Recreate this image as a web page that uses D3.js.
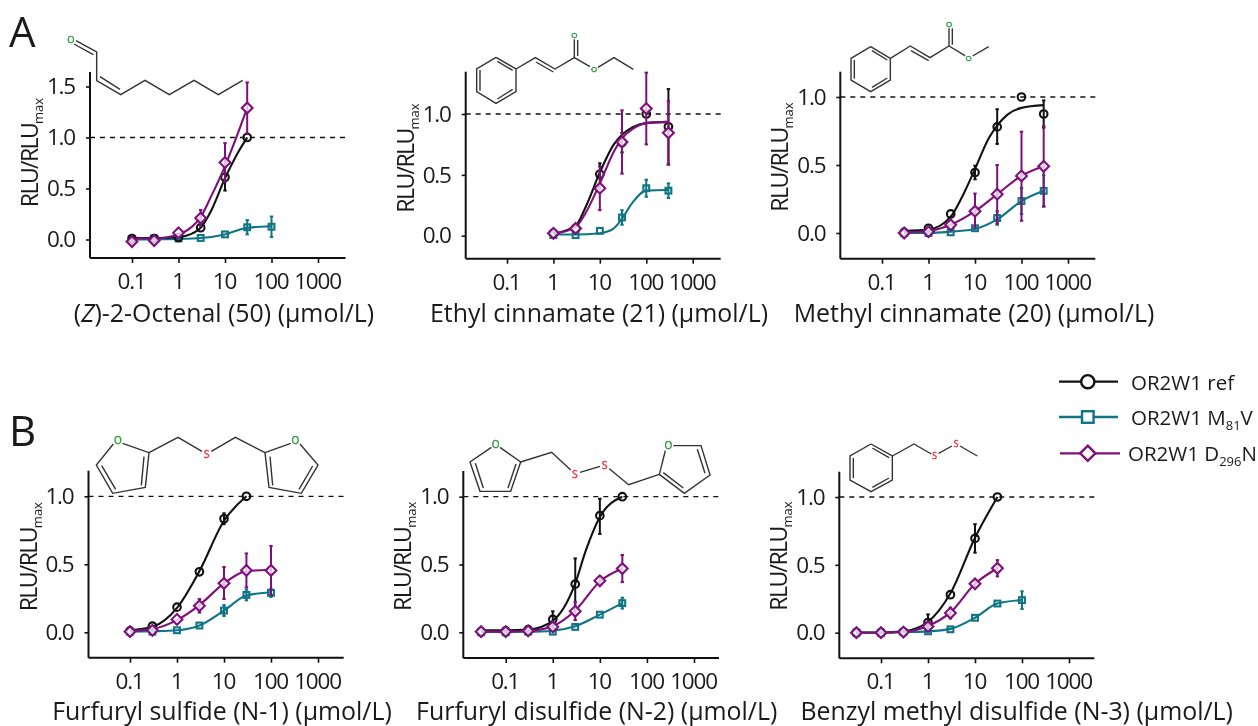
<!DOCTYPE html>
<html><head><meta charset="utf-8">
<style>html,body{margin:0;padding:0;background:#fff;overflow:hidden}svg{display:block;filter:blur(0.45px)}text{font-family:"Open Sans",Lato,sans-serif;fill:#1a1a1a}</style>
<script src="https://cdn.jsdelivr.net/npm/d3@7"></script></head><body>
<svg id="c" width="1258" height="726"></svg>
<script>
// Rows: [concentration, mean, error-down, error-up]
const a1Ref=[[0.1,0.01,0.02,0.02],[0.3,0.01,0.02,0.02],[1,0.02,0.01,0.01],[3,0.115,0.02,0.02],[10,0.61,0.13,0.1],[30,1,0,0]];
const a1Mut=[[0.1,0,0.02,0.02],[0.3,0.01,0.01,0.01],[1,0.01,0.01,0.01],[3,0.015,0.01,0.01],[10,0.05,0.02,0.02],[30,0.12,0.07,0.07],[100,0.125,0.1,0.1]];
const a1Dn=[[0.1,-0.02,0.03,0.03],[0.3,-0.01,0.03,0.03],[1,0.065,0.02,0.02],[3,0.21,0.08,0.08],[10,0.755,0.19,0.19],[30,1.29,0.25,0.25]];
const a2Ref=[[1,0.02,0.01,0.01],[3,0.06,0.01,0.01],[10,0.505,0.09,0.09],[30,0.765,0.08,0.08],[100,1,0,0],[300,0.895,0.31,0.31]];
const a2Mut=[[1,0.005,0.01,0.01],[3,0.005,0.01,0.01],[10,0.04,0.01,0.01],[30,0.15,0.06,0.06],[100,0.39,0.07,0.07],[300,0.37,0.06,0.06]];
const a2Dn=[[1,0.02,0.01,0.01],[3,0.06,0.02,0.02],[10,0.39,0.18,0.18],[30,0.77,0.26,0.26],[100,1.045,0.295,0.295],[300,0.845,0.26,0.26]];
const a3Ref=[[0.3,0.005,0.01,0.01],[1,0.035,0.01,0.01],[3,0.14,0.02,0.02],[10,0.445,0.05,0.05],[30,0.78,0.125,0.13],[100,1,0,0],[300,0.875,0.1,0.1]];
const a3Mut=[[0.3,0,0.01,0.01],[1,0,0.01,0.01],[3,0.005,0.01,0.01],[10,0.035,0.02,0.02],[30,0.11,0.05,0.05],[100,0.235,0.095,0.095],[300,0.31,0.115,0.115]];
const a3Dn=[[0.3,0,0.01,0.01],[1,0.01,0.01,0.01],[3,0.06,0.02,0.02],[10,0.16,0.12,0.13],[30,0.285,0.215,0.215],[100,0.42,0.33,0.325],[300,0.49,0.295,0.295]];
const b1Ref=[[0.1,0.01,0.01,0.01],[0.3,0.045,0.01,0.01],[1,0.185,0.02,0.02],[3,0.445,0.02,0.02],[10,0.835,0.04,0.04],[30,1,0,0]];
const b1Mut=[[0.1,0.005,0.01,0.01],[0.3,0.005,0.01,0.01],[1,0.015,0.01,0.01],[3,0.05,0.01,0.01],[10,0.16,0.04,0.04],[30,0.275,0.04,0.04],[100,0.29,0.03,0.03]];
const b1Dn=[[0.1,0.005,0.01,0.01],[0.3,0.015,0.01,0.01],[1,0.095,0.02,0.02],[3,0.195,0.05,0.05],[10,0.36,0.115,0.12],[30,0.455,0.125,0.125],[100,0.455,0.18,0.18]];
const b2Ref=[[0.03,0.005,0.01,0.01],[0.1,0.01,0.01,0.01],[0.3,0.02,0.01,0.01],[1,0.095,0.06,0.06],[3,0.355,0.19,0.19],[10,0.86,0.135,0.125],[30,1,0,0]];
const b2Mut=[[0.03,0,0.01,0.01],[0.1,0,0.01,0.01],[0.3,0.005,0.01,0.01],[1,0.005,0.01,0.01],[3,0.04,0.01,0.01],[10,0.13,0.02,0.02],[30,0.215,0.04,0.04]];
const b2Dn=[[0.03,0.005,0.01,0.01],[0.1,0.005,0.01,0.01],[0.3,0.01,0.01,0.01],[1,0.04,0.01,0.01],[3,0.155,0.065,0.07],[10,0.38,0.03,0.03],[30,0.47,0.1,0.1]];
const b3Ref=[[0.03,0,0.01,0.01],[0.1,0,0.01,0.01],[0.3,0.005,0.01,0.01],[1,0.075,0.06,0.06],[3,0.28,0.02,0.02],[10,0.695,0.105,0.105],[30,1,0,0]];
const b3Mut=[[0.03,0,0.01,0.01],[0.1,0,0.01,0.01],[0.3,0.005,0.01,0.01],[1,0.01,0.01,0.01],[3,0.025,0.01,0.01],[10,0.11,0.01,0.01],[30,0.215,0.015,0.015],[100,0.24,0.065,0.065]];
const b3Dn=[[0.03,0,0.01,0.01],[0.1,0,0.01,0.01],[0.3,0.005,0.01,0.01],[1,0.045,0.01,0.01],[3,0.145,0.04,0.04],[10,0.36,0.03,0.03],[30,0.475,0.06,0.06]];
// Fitted curves: [concentration, value]
const a1RefFit=[[0.1,0.015],[0.3,0.015],[1,0.025],[2,0.06],[3,0.115],[5,0.28],[10,0.6],[20,0.87],[30,1]];
const a1MutFit=[[0.1,0],[0.3,0.003],[1,0.006],[3,0.015],[10,0.05],[30,0.115],[100,0.13]];
const a1DnFit=[[0.1,0.01],[0.3,0.01],[1,0.05],[2,0.13],[3,0.22],[5,0.42],[10,0.72],[20,1.07],[30,1.29]];
const a2RefFit=[[1,0.015],[3,0.08],[5,0.24],[10,0.52],[20,0.75],[30,0.83],[50,0.89],[100,0.925],[300,0.935]];
const a2MutFit=[[1,0.01],[3,0.01],[10,0.02],[20,0.06],[30,0.14],[50,0.27],[100,0.37],[300,0.375]];
const a2DnFit=[[1,0.015],[3,0.07],[5,0.19],[10,0.43],[20,0.69],[30,0.8],[50,0.875],[100,0.925],[300,0.935]];
const a3RefFit=[[0.3,0.015],[1,0.025],[3,0.12],[5,0.25],[10,0.47],[20,0.7],[30,0.79],[50,0.87],[100,0.92],[300,0.94]];
const a3MutFit=[[0.3,0],[1,0],[3,0.01],[10,0.03],[30,0.1],[100,0.235],[300,0.31]];
const a3DnFit=[[0.3,0.005],[1,0.015],[3,0.06],[10,0.16],[30,0.285],[100,0.42],[300,0.49]];
const b1RefFit=[[0.1,0.015],[0.3,0.04],[1,0.18],[3,0.45],[10,0.82],[30,1]];
const b1MutFit=[[0.1,0.005],[0.3,0.008],[1,0.015],[3,0.05],[10,0.16],[30,0.27],[100,0.295]];
const b1DnFit=[[0.1,0.01],[0.3,0.025],[1,0.09],[3,0.2],[10,0.36],[30,0.45],[100,0.46]];
const b2RefFit=[[0.03,0.015],[0.1,0.015],[0.3,0.02],[1,0.085],[3,0.36],[5,0.6],[10,0.85],[30,1]];
const b2MutFit=[[0.03,0.003],[0.1,0.003],[0.3,0.004],[1,0.012],[3,0.045],[10,0.13],[30,0.215]];
const b2DnFit=[[0.03,0.005],[0.1,0.005],[0.3,0.01],[1,0.045],[3,0.16],[10,0.375],[30,0.47]];
const b3RefFit=[[0.03,0.002],[0.1,0.002],[0.3,0.01],[1,0.08],[3,0.29],[10,0.7],[30,1]];
const b3MutFit=[[0.03,0.001],[0.1,0.001],[0.3,0.005],[1,0.01],[3,0.028],[10,0.11],[30,0.215],[100,0.24]];
const b3DnFit=[[0.03,0],[0.1,0],[0.3,0.006],[1,0.05],[3,0.15],[10,0.36],[30,0.475]];
const xTickValues=[0.1,1,10,100,1000];
const xTickLabels=["0.1","1","10","100","1000"];
const yTicksA1=[0,0.5,1,1.5];
const yTicksRest=[0,0.5,1];
const seriesNames=["OR2W1 ref","OR2W1 M","OR2W1 D"];
const panelTitles=["(Z)-2-Octenal (50) (µmol/L)","Ethyl cinnamate (21) (µmol/L)","Methyl cinnamate (20) (µmol/L)","Furfuryl sulfide (N-1) (µmol/L)","Furfuryl disulfide (N-2) (µmol/L)","Benzyl methyl disulfide (N-3) (µmol/L)"];

const COL={ref:"#111",mut:"#0f7484",dn:"#7f0f7a"};
const FS=23, TS=22.5, TITLE=24.9;
const svg=d3.select("#c");

function marker(g,kind,cx,cy,s,fill,sw){
  const c=COL[kind];
  if(kind==="ref") g.append("circle").attr("cx",cx).attr("cy",cy).attr("r",s).attr("fill",fill).attr("stroke",c).attr("stroke-width",sw);
  if(kind==="mut") g.append("rect").attr("x",cx-s).attr("y",cy-s).attr("width",2*s).attr("height",2*s).attr("fill",fill).attr("stroke",c).attr("stroke-width",sw);
  if(kind==="dn") g.append("path").attr("d",`M${cx-s},${cy}L${cx},${cy-s}L${cx+s},${cy}L${cx},${cy+s}Z`).attr("fill",fill).attr("stroke",c).attr("stroke-width",sw);
}

function panel(o){
  const g=svg.append("g");
  const x=d3.scaleLog().domain([0.1,1000]).range([o.x01,o.x1000]);
  const y=d3.scaleLinear().domain([0,1]).range([o.y0,o.y1]);
  g.append("line").attr("x1",o.axX).attr("x2",o.axEnd).attr("y1",y(1)).attr("y2",y(1)).attr("stroke","#111").attr("stroke-width",1.3).attr("stroke-dasharray","5,5");
  const ax=g.append("g").attr("transform",`translate(0,${o.axB})`).call(d3.axisBottom(x).tickValues(xTickValues).tickFormat((d,i)=>xTickLabels[i]).tickSize(5).tickPadding(10));
  ax.select(".domain").remove();
  ax.append("line").attr("x1",o.axX).attr("x2",o.axEnd).attr("stroke","#111").attr("stroke-width",2);
  ax.selectAll(".tick line").attr("stroke","#111").attr("stroke-width",1.6);
  ax.selectAll("text").attr("font-size",TS).attr("font-family","Open Sans").attr("fill","#1a1a1a").attr("letter-spacing",-1.2).attr("dx",-1);
  const ay=g.append("g").attr("transform",`translate(${o.axX},0)`).call(d3.axisLeft(y).tickValues(o.yt).tickFormat(d3.format(".1f")).tickSize(4).tickPadding(11));
  ay.select(".domain").remove();
  ay.append("line").attr("y1",o.axT).attr("y2",o.axB).attr("stroke","#111").attr("stroke-width",2);
  ay.selectAll(".tick line").attr("stroke","#111").attr("stroke-width",1.6);
  ay.selectAll("text").attr("font-size",TS).attr("font-family","Open Sans").attr("fill","#1a1a1a").attr("letter-spacing",-1.2);
  const yl=g.append("text").attr("transform",`translate(${o.axX-52},${o.yl}) rotate(-90)`).attr("font-size",FS).attr("text-anchor","middle");
  yl.append("tspan").text("RLU/RLU").attr("letter-spacing",-1.6);
  yl.append("tspan").text("max").attr("font-size",13).attr("dy",5);
  const t=g.append("text").attr("x",o.tx).attr("y",o.ty).attr("text-anchor","middle").attr("font-size",TITLE);
  if(o.title.startsWith("(Z)")){t.append("tspan").text("(");t.append("tspan").text("Z").attr("font-style","italic");t.append("tspan").text(o.title.slice(2));}
  else t.text(o.title);
  const line=d3.line().x(d=>x(d[0])).y(d=>y(d[1])).curve(d3.curveMonotoneX);
  [["mut",o.mut,o.mutFit],["dn",o.dn,o.dnFit],["ref",o.ref,o.refFit]].sort((a,b)=>o.order.indexOf(a[0])-o.order.indexOf(b[0])).forEach(([k,rows,fit])=>{
    const s=g.append("g");
    s.append("path").attr("d",line(fit)).attr("fill","none").attr("stroke",COL[k]).attr("stroke-width",2.1);
    rows.filter(r=>r[2]+r[3]>0.04).forEach(r=>{
      const cx=x(r[0]);
      s.append("line").attr("x1",cx).attr("x2",cx).attr("y1",y(r[1]-r[2])).attr("y2",y(r[1]+r[3])).attr("stroke",COL[k]).attr("stroke-width",2);
      [r[1]-r[2],r[1]+r[3]].forEach(v=>s.append("line").attr("x1",cx-1.7).attr("x2",cx+1.7).attr("y1",y(v)).attr("y2",y(v)).attr("stroke",COL[k]).attr("stroke-width",2));
    });
    rows.forEach(r=>marker(s,k,x(r[0]),y(r[1]),k==="ref"?3.8:k==="mut"?2.9:5.4,k==="dn"?"rgba(255,255,255,.75)":"none",2.1));
  });
  return g;
}

panel({x01:132,x1000:318,y0:239.5,y1:137.5,axX:90,axEnd:345.5,axT:72,axB:258,yl:152.5,yt:yTicksA1,tx:224,ty:321.5,title:panelTitles[0],ref:a1Ref,mut:a1Mut,dn:a1Dn,refFit:a1RefFit,mutFit:a1MutFit,dnFit:a1DnFit,order:["mut","ref","dn"]});
panel({x01:507,x1000:692.7,y0:235.7,y1:114,axX:465.7,axEnd:720.7,axT:71.7,axB:258.7,yl:158,yt:yTicksRest,tx:599,ty:321.5,title:panelTitles[1],ref:a2Ref,mut:a2Mut,dn:a2Dn,refFit:a2RefFit,mutFit:a2MutFit,dnFit:a2DnFit,order:["mut","ref","dn"]});
panel({x01:882,x1000:1068,y0:233,y1:97,axX:840.3,axEnd:1095.3,axT:71.7,axB:258.7,yl:157,yt:yTicksRest,tx:974,ty:321.5,title:panelTitles[2],ref:a3Ref,mut:a3Mut,dn:a3Dn,refFit:a3RefFit,mutFit:a3MutFit,dnFit:a3DnFit,order:["ref","mut","dn"]});
panel({x01:130,x1000:318,y0:632.3,y1:496.3,axX:88.5,axEnd:343.7,axT:470.7,axB:657.7,yl:556.7,yt:yTicksRest,tx:222,ty:720,title:panelTitles[3],ref:b1Ref,mut:b1Mut,dn:b1Dn,refFit:b1RefFit,mutFit:b1MutFit,dnFit:b1DnFit,order:["ref","mut","dn"]});
panel({x01:505.7,x1000:694,y0:632.3,y1:496.7,axX:463.3,axEnd:719,axT:471,axB:658,yl:556.3,yt:yTicksRest,tx:596.7,ty:720,title:panelTitles[4],ref:b2Ref,mut:b2Mut,dn:b2Dn,refFit:b2RefFit,mutFit:b2MutFit,dnFit:b2DnFit,order:["ref","mut","dn"]});
panel({x01:881,x1000:1069,y0:632.7,y1:497,axX:839.3,axEnd:1094.3,axT:471.7,axB:658.3,yl:556,yt:yTicksRest,tx:1016.7,ty:720,title:panelTitles[5],ref:b3Ref,mut:b3Mut,dn:b3Dn,refFit:b3RefFit,mutFit:b3MutFit,dnFit:b3DnFit,order:["ref","mut","dn"]});

svg.append("text").attr("x",9).attr("y",47).attr("font-size",42).text("A");
svg.append("text").attr("x",9).attr("y",446).attr("font-size",42).text("B");

function legendRow(k,yy,x1,x2,xt,parts,s){
  svg.append("line").attr("x1",x1).attr("x2",x2).attr("y1",yy).attr("y2",yy).attr("stroke",COL[k]).attr("stroke-width",2.3);
  marker(svg.append("g"),k,1087.8,yy,s,"#fff",2.4);
  const t=svg.append("text").attr("x",xt).attr("y",yy+8).attr("font-size",20.5);
  t.append("tspan").text(parts[0]);
  if(parts[1]){t.append("tspan").text(parts[1]).attr("font-size",13).attr("dy",5);t.append("tspan").text(parts[2]).attr("dy",-5);}
}
legendRow("ref",381.7,1059,1118,1131,[seriesNames[0]],6.6);
legendRow("mut",417,1059,1118,1131,[seriesNames[1],"81","V"],5.8);
legendRow("dn",453.3,1060,1120,1128,[seriesNames[2],"296","N"],7.6);

// Chemical structure sketches (illustrations, not data)
const BOND="#333",OX="#2a9a3a",SU="#f0313b";
function mol(ox,oy,bonds,doubles,atoms){
  const g=svg.append("g").attr("transform",`translate(${ox},${oy}) scale(${1/3})`);
  bonds.forEach(p=>g.append("polyline").attr("points",p.join(" ")).attr("fill","none").attr("stroke",BOND).attr("stroke-width",4.2));
  doubles.forEach(d=>g.append("line").attr("x1",d[0]).attr("y1",d[1]).attr("x2",d[2]).attr("y2",d[3]).attr("stroke",BOND).attr("stroke-width",4.2));
  atoms.forEach(a=>g.append("text").attr("x",a[1]).attr("y",a[2]).attr("dy",a[3]*0.36).attr("text-anchor","middle").attr("font-size",a[3]).attr("font-family","Liberation Sans").style("fill",a[0]==="S"?SU:OX).style("stroke",a[0]==="S"?SU:OX).style("stroke-width",1.2).text(a[0]));
}
mol(0,0,[[[228,122],[290,156],[290,242],[362,284],[435,241],[508,284],[582,241],[655,284],[728,241]]],[[222,132,280,164],[300,230,360,268]],[["O",213,120,28]]);
mol(390,20,[[[318,112],[378,147],[378,215],[318,250],[260,215],[260,147],[318,112]],[[378,147],[436,113],[495,147],[553,113],[600,140]],[[624,142],[672,113],[730,148]],[[553,113],[553,58]]],[[322,124,368,151],[368,208,322,237],[270,212,270,150],[438,126,490,156],[563,108,563,60]],[["O",553,46,24],["O",612,148,24]]);
mol(780,10,[[[272,110],[331,145],[331,210],[272,245],[213,210],[213,145],[272,110]],[[331,145],[391,108],[450,143],[507,108],[555,137]],[[578,138],[626,110]],[[507,108],[507,55]]],[[276,122,322,150],[322,204,276,232],[223,206,223,150],[393,122,446,152],[517,104,517,55]],[["O",507,42,24],["O",566,144,24]]);
mol(0,400,[[[368,130],[447,158],[436,262],[338,280],[289,195],[340,132]],[[447,158],[534,112],[606,154]],[[634,154],[706,112],[795,158]],[[795,158],[872,130]],[[900,132],[954,195],[904,280],[807,262],[795,158]]],[[432,170,424,256],[305,197,347,268],[810,170,818,256],[938,198,897,268]],[["O",354,122,30],["O",886,122,30],["S",620,162,32]]);
mol(400,420,[[[274,82],[210,126],[240,214],[332,214],[362,126],[300,82]],[[362,126],[455,97],[512,150]],[[540,157],[600,139]],[[628,146],[686,194],[778,163]],[[778,163],[796,92]],[[820,77],[903,77],[930,165],[853,220],[778,163]]],[[226,130,250,204],[348,132,324,204],[892,88,915,160],[790,158,850,204]],[["O",287,73,30],["O",805,77,30],["S",525,162,32],["S",614,134,32]]);
mol(790,360,[[[243,252],[307,288],[307,360],[243,395],[180,360],[180,288],[243,252]],[[307,288],[372,252],[424,282]],[[446,280],[486,258]],[[510,258],[562,288]]],[[247,264,297,293],[297,354,247,382],[190,354,190,294]],[["S",434,288,26],["S",498,252,26]]);
</script></body></html>
